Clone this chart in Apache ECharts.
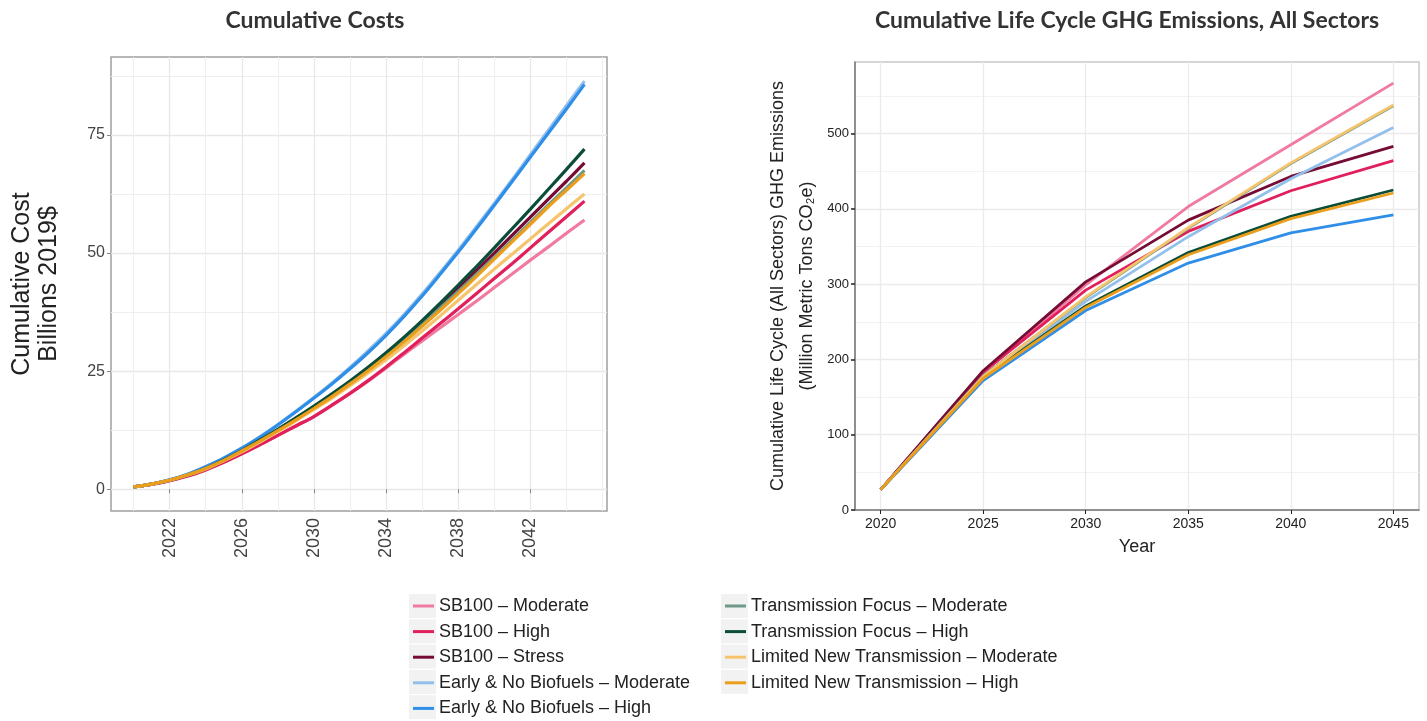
<!DOCTYPE html>
<html>
<head>
<meta charset="utf-8">
<title>Cumulative Costs and GHG Emissions</title>
<script src="https://cdn.jsdelivr.net/npm/echarts@6/dist/echarts.min.js"></script>
<style>
  html, body { margin: 0; padding: 0; background: #fff; }
  #chart { width: 1427px; height: 721px; }
</style>
</head>
<body>
<div id="chart"></div>
<script>
// scenarios, in drawing / legend order
const scenarios = [
  'SB100 – Moderate',
  'SB100 – High',
  'SB100 – Stress',
  'Early & No Biofuels – Moderate',
  'Early & No Biofuels – High',
  'Transmission Focus – Moderate',
  'Transmission Focus – High',
  'Limited New Transmission – Moderate',
  'Limited New Transmission – High'
]
const colors = ['#f07aa0', '#e01f5c', '#760c35', '#93c0ea', '#2f8ee8', '#6f9a88', '#0b4d39', '#f6c46c', '#eb9e1c']

// cumulative costs, billions 2019$, yearly
const costYears = [2020, 2021, 2022, 2023, 2024, 2025, 2026, 2027, 2028, 2029, 2030, 2031, 2032,
  2033, 2034, 2035, 2036, 2037, 2038, 2039, 2040, 2041, 2042, 2043, 2044, 2045]
const costSb100Mod = [0.5, 1.0, 1.8, 2.8, 4.1, 5.7, 7.5, 9.4, 11.4, 13.4, 15.4, 17.8, 20.3,
  22.9, 25.7, 28.6, 31.4, 34.2, 37.0, 39.8, 42.7, 45.6, 48.5, 51.3, 54.2, 57.0]
const costSb100High = [0.5, 1.0, 1.8, 2.8, 4.1, 5.7, 7.5, 9.4, 11.4, 13.4, 15.4, 17.8, 20.3,
  23.0, 25.9, 28.9, 32.0, 35.1, 38.2, 41.4, 44.6, 47.8, 51.1, 54.4, 57.7, 61.0]
const costSb100Stress = [0.5, 1.1, 1.9, 3.0, 4.4, 6.1, 8.1, 10.3, 12.6, 15.0, 17.4, 20.0, 22.7,
  25.6, 28.7, 32.0, 35.4, 39.0, 42.6, 46.3, 50.0, 53.8, 57.6, 61.4, 65.2, 69.1]
const costEarlyMod = [0.5, 1.1, 2.0, 3.2, 4.8, 6.6, 8.7, 11.1, 13.7, 16.5, 19.4, 22.5, 25.8,
  29.3, 33.0, 37.0, 41.3, 45.9, 50.6, 55.5, 60.5, 65.6, 70.8, 76.0, 81.2, 86.4]
const costEarlyHigh = [0.5, 1.1, 2.0, 3.2, 4.8, 6.6, 8.7, 11.0, 13.6, 16.4, 19.3, 22.3, 25.5,
  28.9, 32.6, 36.6, 40.9, 45.5, 50.2, 55.1, 60.1, 65.2, 70.3, 75.4, 80.5, 85.7]
const costTransMod = [0.5, 1.1, 1.9, 3.0, 4.4, 6.1, 8.1, 10.2, 12.4, 14.7, 17.1, 19.7, 22.4,
  25.3, 28.3, 31.5, 34.9, 38.4, 41.9, 45.5, 49.1, 52.8, 56.5, 60.2, 63.8, 67.5]
const costTransHigh = [0.5, 1.1, 1.9, 3.0, 4.4, 6.2, 8.2, 10.4, 12.7, 15.1, 17.6, 20.2, 22.9,
  25.8, 28.9, 32.2, 35.7, 39.4, 43.2, 47.1, 51.1, 55.2, 59.3, 63.5, 67.7, 72.0]
const costLimitedMod = [0.5, 1.1, 1.9, 3.0, 4.3, 6.0, 7.9, 10.0, 12.2, 14.5, 16.9, 19.3, 21.9,
  24.6, 27.4, 30.4, 33.5, 36.7, 40.0, 43.3, 46.6, 49.8, 53.0, 56.2, 59.4, 62.5]
const costLimitedHigh = [0.5, 1.1, 1.9, 3.0, 4.4, 6.1, 8.1, 10.2, 12.4, 14.7, 17.1, 19.6, 22.3,
  25.1, 28.1, 31.2, 34.5, 37.9, 41.4, 45.0, 48.7, 52.4, 56.1, 59.8, 63.3, 66.8]

// cumulative life cycle GHG emissions, million metric tons CO2e
const ghgYears = [2020, 2025, 2030, 2035, 2040, 2045]
const ghgSb100Mod = [27, 182, 299, 403, 485, 567]
const ghgSb100High = [27, 183, 292, 370, 424, 464]
const ghgSb100Stress = [27, 185, 303, 385, 443, 483]
const ghgEarlyMod = [27, 176, 277, 363, 440, 508]
const ghgEarlyHigh = [27, 172, 265, 328, 368, 392]
const ghgTransMod = [27, 178, 282, 374, 460, 537]
const ghgTransHigh = [27, 176, 271, 342, 390, 425]
const ghgLimitedMod = [27, 177, 283, 375, 461, 538]
const ghgLimitedHigh = [27, 175, 269, 339, 387, 421]

// axis breaks
const costXMajor = [2022, 2026, 2030, 2034, 2038, 2042]
const costXMinor = [2020, 2024, 2028, 2032, 2036, 2040, 2044, 2046]
const costYMajor = [0, 25, 50, 75]
const costYMinor = [12.5, 37.5, 62.5, 87.5]
const ghgXMajor = [2020, 2025, 2030, 2035, 2040, 2045]
const ghgYMajor = [0, 100, 200, 300, 400, 500]
const ghgYMinor = [50, 150, 250, 350, 450, 550]

const costData = [costSb100Mod, costSb100High, costSb100Stress, costEarlyMod, costEarlyHigh,
  costTransMod, costTransHigh, costLimitedMod, costLimitedHigh]
const ghgData = [ghgSb100Mod, ghgSb100High, ghgSb100Stress, ghgEarlyMod, ghgEarlyHigh,
  ghgTransMod, ghgTransHigh, ghgLimitedMod, ghgLimitedHigh]

const axisFont = 'Liberation Sans, Arial, sans-serif'
const titleFont = 'Lato, Open Sans, sans-serif'
const plainYear = v => String(v)

const chart = echarts.init(document.getElementById('chart'))

const series = []
scenarios.forEach((name, i) => {
  series.push({
    name: name,
    type: 'line',
    xAxisIndex: 0,
    yAxisIndex: 0,
    showSymbol: false,
    symbol: 'none',
    smooth: 0.3,
    lineStyle: { width: 3.2, color: colors[i] },
    itemStyle: { color: colors[i] },
    data: costYears.map((y, k) => [y, costData[i][k]])
  })
  series.push({
    name: name,
    type: 'line',
    xAxisIndex: 2,
    yAxisIndex: 2,
    showSymbol: false,
    symbol: 'none',
    lineStyle: { width: 2.8, color: colors[i] },
    itemStyle: { color: colors[i] },
    data: ghgYears.map((y, k) => [y, ghgData[i][k]])
  })
})

// grey legend key boxes (ggplot style)
const keyBoxes = []
for (let r = 0; r < 5; r++) {
  keyBoxes.push({ type: 'rect', left: 409, top: 594 + r * 25.3, shape: { width: 27, height: 24 }, style: { fill: '#f2f2f2' }, z: -1 })
}
for (let r = 0; r < 4; r++) {
  keyBoxes.push({ type: 'rect', left: 721, top: 594 + r * 25.3, shape: { width: 27, height: 24 }, style: { fill: '#f2f2f2' }, z: -1 })
}

const legendBase = {
  orient: 'vertical',
  padding: 0,
  height: 130,
  itemWidth: 21,
  itemHeight: 3,
  itemGap: 5.6,
  icon: 'rect',
  textStyle: { fontFamily: axisFont, fontSize: 18, color: '#222', lineHeight: 20 }
}

chart.setOption({
  animation: false,
  backgroundColor: '#fff',
  title: [
    {
      text: 'Cumulative Costs',
      left: 310, top: 4, textAlign: 'center',
      textStyle: { fontFamily: titleFont, fontWeight: 'bold', fontSize: 23, color: '#333' }
    },
    {
      text: 'Cumulative Life Cycle GHG Emissions, All Sectors',
      left: 1122, top: 4, textAlign: 'center',
      textStyle: { fontFamily: titleFont, fontWeight: 'bold', fontSize: 23, color: '#333' }
    }
  ],
  graphic: keyBoxes,
  legend: [
    Object.assign({}, legendBase, { left: 413, top: 596, data: scenarios.slice(0, 5) }),
    Object.assign({}, legendBase, { left: 725, top: 596, data: scenarios.slice(5) })
  ],
  grid: [
    { left: 111, top: 57, width: 496, height: 454, show: true, borderColor: '#a0a0a0', borderWidth: 1.5, backgroundColor: 'transparent' },
    { left: 855, top: 62, width: 564, height: 448, show: true, borderColor: '#c8c8c8', borderWidth: 1.5, backgroundColor: 'transparent' }
  ],
  xAxis: [
    {
      type: 'value', gridIndex: 0, min: 2018.75, max: 2046.25,
      axisLine: { show: false },
      axisTick: { show: true, length: 4, customValues: costXMajor, lineStyle: { color: '#888' } },
      axisLabel: { customValues: costXMajor, formatter: plainYear, rotate: 90, margin: 7, fontFamily: axisFont, fontSize: 18, color: '#444' },
      splitLine: { show: true, lineStyle: { color: '#e8e8e8', width: 1.3 } }
    },
    {
      type: 'value', gridIndex: 0, min: 2018.75, max: 2046.25,
      axisLine: { show: false },
      axisTick: { show: false, customValues: costXMinor },
      axisLabel: { show: false },
      splitLine: { show: true, lineStyle: { color: '#efefef', width: 1 } }
    },
    {
      type: 'value', gridIndex: 1, min: 2018.75, max: 2046.25,
      name: 'Year', nameLocation: 'middle', nameGap: 28,
      nameTextStyle: { fontFamily: axisFont, fontSize: 18, color: '#222' },
      axisLine: { show: true, onZero: false, lineStyle: { color: '#777', width: 1.5 } },
      axisTick: { show: true, length: 4, customValues: ghgXMajor, lineStyle: { color: '#222' } },
      axisLabel: { customValues: ghgXMajor, formatter: plainYear, margin: 7, fontFamily: axisFont, fontSize: 14, color: '#222' },
      splitLine: { show: true, lineStyle: { color: '#ebebeb', width: 1.3 } }
    }
  ],
  yAxis: [
    {
      type: 'value', gridIndex: 0, min: -4.6, max: 91.5,
      name: 'Cumulative Cost\nBillions 2019$', nameLocation: 'middle', nameGap: 48,
      nameTextStyle: { fontFamily: axisFont, fontSize: 25, color: '#222', lineHeight: 27 },
      axisLine: { show: false },
      axisTick: { show: true, length: 4, customValues: costYMajor, lineStyle: { color: '#888' } },
      axisLabel: { customValues: costYMajor, margin: 6, fontFamily: axisFont, fontSize: 16, color: '#444' },
      splitLine: { show: true, lineStyle: { color: '#e8e8e8', width: 1.3 } }
    },
    {
      type: 'value', gridIndex: 0, min: -4.6, max: 91.5,
      axisLine: { show: false },
      axisTick: { show: false, customValues: costYMinor },
      axisLabel: { show: false },
      splitLine: { show: true, lineStyle: { color: '#efefef', width: 1 } }
    },
    {
      type: 'value', gridIndex: 1, min: 0, max: 595,
      name: 'Cumulative Life Cycle (All Sectors) GHG Emissions\n(Million Metric Tons CO₂e)',
      nameLocation: 'middle', nameGap: 33,
      nameTextStyle: { fontFamily: axisFont, fontSize: 18, color: '#222', lineHeight: 29 },
      axisLine: { show: true, onZero: false, lineStyle: { color: '#777', width: 1.5 } },
      axisTick: { show: true, length: 4, customValues: ghgYMajor, lineStyle: { color: '#222', width: 1.5 } },
      axisLabel: { customValues: ghgYMajor, margin: 6, fontFamily: axisFont, fontSize: 13, color: '#222' },
      splitLine: { show: true, lineStyle: { color: '#ebebeb', width: 1.3 } }
    },
    {
      type: 'value', gridIndex: 1, min: 0, max: 595,
      axisLine: { show: false },
      axisTick: { show: false, customValues: ghgYMinor },
      axisLabel: { show: false },
      splitLine: { show: true, lineStyle: { color: '#f2f2f2', width: 1 } }
    }
  ],
  series: series
})
</script>
</body>
</html>
